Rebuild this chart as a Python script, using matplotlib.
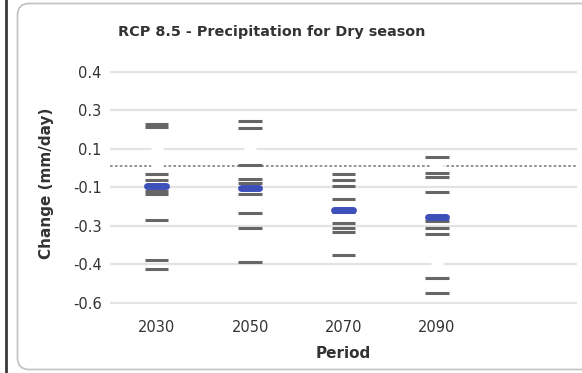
import matplotlib
matplotlib.use("Agg")
import matplotlib.pyplot as plt
from matplotlib.patches import FancyBboxPatch
from matplotlib.lines import Line2D

# Periods on the x axis (a fifth, empty slot keeps the right margin)
periods = ["2030", "2050", "2070", "2090"]

# Individual model projections of the change (mm/day), one list per period
model_2030 = [0.187, 0.173, -0.040, -0.065, -0.116, -0.129, -0.246, -0.428, -0.470]
model_2050 = [0.202, 0.170, 0.004, -0.059, -0.079, -0.131, -0.215, -0.283, -0.439]
model_2070 = [-0.037, -0.064, -0.091, -0.153, -0.213, -0.263, -0.283, -0.303, -0.407]
model_2090 = [0.040, -0.033, -0.053, -0.121, -0.254, -0.284, -0.313, -0.511, -0.580]
model_values = [model_2030, model_2050, model_2070, model_2090]

# Ensemble mean per period
ensemble_mean = [-0.094, -0.103, -0.200, -0.233]

# White (blank) markers of an unstyled series: period index and value
blank_period = [0, 0, 1, 3, 3]
blank_value = [0.072, 0.0, 0.072, 0.0, -0.449]

# Y axis ticks and their printed labels
y_ticks = [0.426, 0.251, 0.076, -0.099, -0.274, -0.449, -0.624]
y_tick_labels = ["0.4", "0.3", "0.1", "-0.1", "-0.3", "-0.4", "-0.6"]

W, H = 582, 373
fig = plt.figure(figsize=(W / 100, H / 100), dpi=100)
fig.patch.set_facecolor("white")

# Outer frame: dark rule on the left and a rounded light panel
fig.add_artist(Line2D([6 / W, 6 / W], [0, 1], transform=fig.transFigure,
                      color="#3a3a3a", lw=2.0, zorder=-5))
panel = FancyBboxPatch((17.5 / W, 3.5 / H), 620 / W, 366 / H,
                       boxstyle="round,pad=0,rounding_size=0.02",
                       transform=fig.transFigure, facecolor="white",
                       edgecolor="#c4c4c4", lw=1.3, mutation_aspect=W / H,
                       zorder=-5)
fig.add_artist(panel)

left, right = 110 / W, 577 / W
bottom, top = (H - 303.5) / H, (H - 71.2) / H
ax = fig.add_axes([left, bottom, right - left, top - bottom])
ax.set_facecolor("none")
ax.set_zorder(2)

ax.set_xlim(-0.5, 4.5)
ax.set_ylim(-0.6265, 0.4285)

for s in ax.spines.values():
    s.set_visible(False)

ax.set_yticks(y_ticks)
ax.set_yticklabels(y_tick_labels)
ax.set_xticks(range(len(periods)))
ax.set_xticklabels(periods)
ax.tick_params(axis="both", length=0, labelsize=10.5, labelcolor="#333333")
ax.tick_params(axis="y", pad=6)
ax.tick_params(axis="x", pad=12)

ax.yaxis.grid(True, color="#e3e3e3", lw=1.6)
ax.set_axisbelow(True)

# Zero reference line
ax.axhline(0.0, color="#8c8c8c", lw=1.3, ls=(0, (1.5, 1.2)), zorder=1)

# Blank markers sit above the grid, below the dashes
ax.plot(blank_period, blank_value, ls="none", marker="o", ms=8,
        mfc="white", mec="white", zorder=2)

half = 0.125
for i, vals in enumerate(model_values):
    ax.hlines(vals, i - half, i + half, colors="#666666", lw=2.2,
              zorder=3, capstyle="butt")

blue_half = 0.1
for i, m in enumerate(ensemble_mean):
    ax.plot([i - blue_half, i + blue_half], [m, m], color="#3d4fb8", lw=5.0,
            solid_capstyle="round", zorder=4)

ax.set_xlabel("Period", fontsize=11, fontweight="bold", color="#333333",
              labelpad=8)

fig.text(272 / W, 1 - 32 / H, "RCP 8.5 - Precipitation for Dry season",
         ha="center", va="center", fontsize=10.4, fontweight="bold",
         color="#333333")
fig.text(47 / W, 1 - 183 / H, "Change (mm/day)", rotation=90,
         ha="center", va="center", fontsize=11, fontweight="bold",
         color="#333333")

fig.savefig("out.png", dpi=100, facecolor="white")
